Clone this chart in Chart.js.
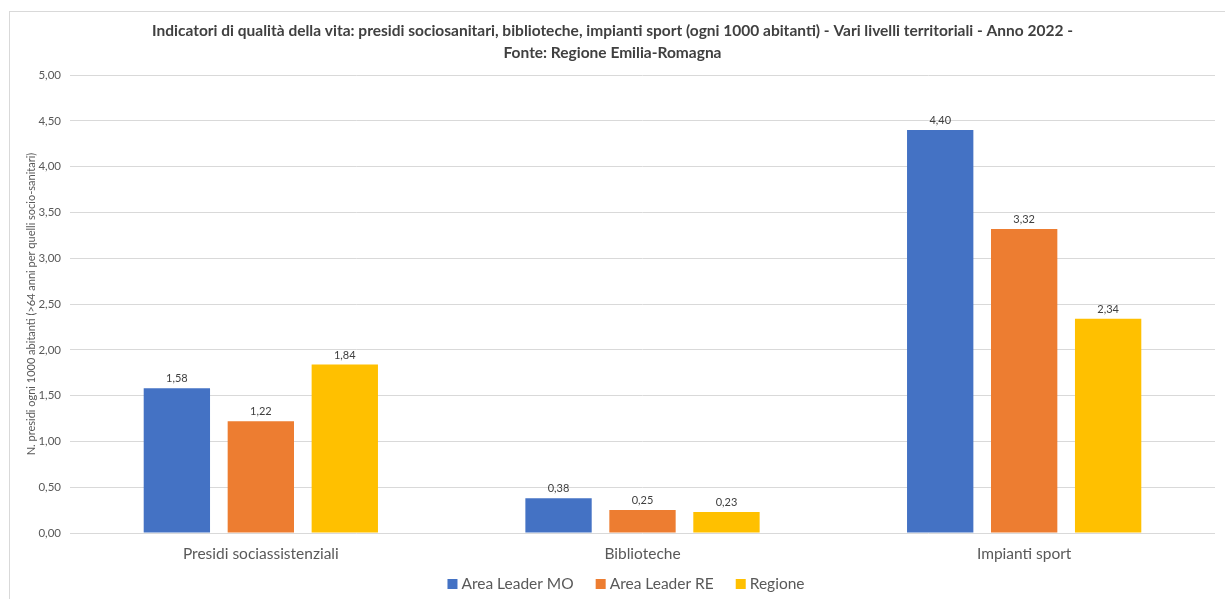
<!DOCTYPE html>
<html>
<head>
<meta charset="utf-8">
<script src="https://cdn.jsdelivr.net/npm/chart.js@4/dist/chart.umd.min.js"></script>
<style>
  body { margin: 0; background: #fff; }
  #frame { position: absolute; left: 9px; top: 11px; width: 1240px; height: 620px; border: 1px solid #d9d9d9; }
  #wrap { position: absolute; left: 0; top: 0; width: 1225px; height: 599px; }
</style>
</head>
<body>
<div id="frame"></div>
<div id="wrap"><canvas id="chart"></canvas></div>
<script>
// categorie e valori (ogni 1000 abitanti)
const categories = ['Presidi sociassistenziali', 'Biblioteche', 'Impianti sport'];
const seriesNames = ['Area Leader MO', 'Area Leader RE', 'Regione'];
const areaLeaderMO = [1.58, 0.38, 4.40];
const areaLeaderRE = [1.22, 0.25, 3.32];
const regione = [1.84, 0.23, 2.34];
const colors = ['#4472C4', '#ED7D31', '#FFC000'];
const titleLines = [
  'Indicatori di qualità della vita: presidi sociosanitari, biblioteche, impianti sport (ogni 1000 abitanti) - Vari livelli territoriali - Anno 2022 -',
  'Fonte: Regione Emilia-Romagna'
];
const yTitle = 'N. presidi ogni 1000 abitanti (>64 anni per quelli socio-sanitari)';

const FONT = 'Lato, "Open Sans", sans-serif';

// etichette sopra le barre
const barLabels = {
  id: 'barLabels',
  afterDatasetsDraw(chart) {
    const ctx = chart.ctx;
    ctx.save();
    ctx.font = '11px ' + FONT;
    ctx.fillStyle = '#404040';
    ctx.textAlign = 'center';
    ctx.textBaseline = 'bottom';
    chart.data.datasets.forEach((ds, i) => {
      chart.getDatasetMeta(i).data.forEach((bar, j) => {
        ctx.fillText(ds.data[j].toFixed(2).replace('.', ','), bar.x, bar.y - 4);
      });
    });
    ctx.restore();
  }
};

// legenda in basso, disegnata a mano per avere la spaziatura giusta
const bottomLegend = {
  id: 'bottomLegend',
  afterDraw(chart) {
    const ctx = chart.ctx;
    ctx.save();
    ctx.font = '15.5px ' + FONT;
    ctx.textBaseline = 'middle';
    const box = 10, gap = 4, spacing = 22;
    const items = chart.data.datasets.map(ds => ({ text: ds.label, color: ds.backgroundColor, w: ctx.measureText(ds.label).width }));
    const total = items.reduce((s, it) => s + box + gap + it.w, 0) + spacing * (items.length - 1);
    let x = 626 - total / 2;
    const y = 584;
    items.forEach(it => {
      ctx.fillStyle = it.color;
      ctx.fillRect(x, y - box / 2, box, box);
      x += box + gap;
      ctx.fillStyle = '#595959';
      ctx.fillText(it.text, x, y);
      x += it.w + spacing;
    });
    ctx.restore();
  }
};

const allSeries = [areaLeaderMO, areaLeaderRE, regione];

new Chart(document.getElementById('chart'), {
  type: 'bar',
  data: {
    labels: categories,
    datasets: allSeries.map((d, i) => ({
      label: seriesNames[i],
      data: d,
      backgroundColor: colors[i],
      categoryPercentage: 0.66,
      barPercentage: 0.79
    }))
  },
  options: {
    responsive: true,
    maintainAspectRatio: false,
    animation: false,
    layout: { padding: { left: 10, right: 10, top: 0, bottom: 30 } },
    plugins: {
      title: {
        display: true,
        text: titleLines,
        color: '#404040',
        font: { family: FONT, size: 15.5, weight: 'bold', lineHeight: 1.42 },
        padding: { top: 20, bottom: 11 }
      },
      legend: { display: false },
      tooltip: { enabled: false }
    },
    scales: {
      x: {
        grid: { display: false, drawTicks: false },
        border: { display: false },
        ticks: { color: '#595959', font: { family: FONT, size: 15.5 }, padding: 12 },
        afterFit(scale) { scale.height = 36; }
      },
      y: {
        min: 0,
        max: 5,
        ticks: {
          stepSize: 0.5,
          color: '#595959',
          font: { family: FONT, size: 11.5 },
          padding: 9,
          callback: v => v.toFixed(2).replace('.', ',')
        },
        grid: { color: '#d9d9d9', drawTicks: false },
        border: { display: false },
        title: {
          display: true,
          text: yTitle,
          color: '#595959',
          font: { family: FONT, size: 11 },
          padding: { top: 15, bottom: 0 }
        },
        afterFit(scale) { scale.width = 60; }
      }
    }
  },
  plugins: [barLabels, bottomLegend]
});
</script>
</body>
</html>
